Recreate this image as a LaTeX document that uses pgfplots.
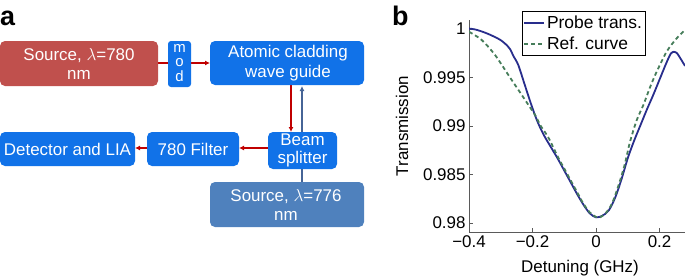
\documentclass[border=0pt]{standalone}
\usepackage{pgfplots}
\pgfplotsset{compat=1.18}
\usetikzlibrary{arrows.meta}
\usepackage{fontspec}
\setmainfont{Liberation Sans}
\definecolor{srcred}{RGB}{192,80,77}
\definecolor{boxblue}{RGB}{17,114,232}
\definecolor{steel}{RGB}{79,129,189}
\definecolor{arrred}{RGB}{192,0,0}
\definecolor{arrblue}{RGB}{70,100,150}
\definecolor{probe}{RGB}{40,45,140}
\definecolor{refc}{RGB}{70,125,90}
\definecolor{axisgray}{RGB}{90,90,90}

\pgfplotstableread{
x y
-0.40 1.00005
-0.38 0.99995
-0.36 0.99975
-0.34 0.9995
-0.32 0.9992
-0.30 0.99885
-0.28 0.9983
-0.27 0.9979
-0.26 0.9972
-0.245 0.9963
-0.225 0.9943
-0.205 0.9923
-0.185 0.9905
-0.165 0.9891
-0.14 0.9877
-0.12 0.9866
-0.10 0.9854
-0.08 0.9842
-0.06 0.9830
-0.04 0.9819
-0.02 0.9810
0.00 0.98058
0.02 0.98075
0.04 0.9813
0.06 0.9826
0.08 0.9845
0.10 0.9867
0.12 0.9885
0.14 0.9901
0.16 0.9917
0.18 0.9932
0.20 0.9948
0.22 0.9964
0.235 0.99745
0.245 0.99765
0.255 0.9975
0.265 0.9970
0.28 0.9962
}\probetab

\pgfplotstableread{
x y
-0.40 0.99972
-0.36 0.99887
-0.318 0.99732
-0.276 0.99526
-0.234 0.9932
-0.192 0.99113
-0.176 0.9901
-0.15 0.9888
-0.12 0.9868
-0.10 0.9856
-0.08 0.9844
-0.06 0.9832
-0.04 0.9820
-0.02 0.9811
0.00 0.98062
0.01 0.98055
0.03 0.9810
0.05 0.9820
0.07 0.9838
0.09 0.9860
0.107 0.98838
0.128 0.9906
0.149 0.99217
0.17 0.9940
0.191 0.99561
0.222 0.99766
0.25 0.9989
0.264 0.99938
0.28 0.9999
}\reftab

\begin{document}
\begin{tikzpicture}
\path[use as bounding box] (0,0) rectangle (685bp,-279bp);
\begin{scope}[x=1bp,y=-1bp,
  txt/.style={text=white, align=center, inner sep=0pt, font=\fontsize{17}{19.5}\selectfont},
  rarr/.style={arrred, line width=1.2bp, -{Latex[length=5bp,width=5bp]}},
  barr/.style={arrblue, line width=1.2bp, -{Latex[length=5bp,width=5bp]}}]
  % connection lines
  \draw[barr] (302,182) -- (302,86);
  \draw[arrred, line width=1.2bp] (158,63) -- (168,63);
  \draw[rarr] (191,63) -- (210,63);
  \draw[rarr] (291,85) -- (291,132);
  \draw[rarr] (268,148) -- (239,148);
  \draw[rarr] (147,148) -- (135,148);
  % boxes
  \fill[srcred, rounded corners=5bp] (0,41) rectangle (158,86);
  \node[txt] at (79,64) {Source, $\lambda$=780\\nm};
  \fill[boxblue, rounded corners=3bp] (168,41) rectangle (191,87);
  \node[txt, font=\fontsize{15}{14.5}\selectfont] at (179.5,63) {m\\o\\d};
  \fill[boxblue, rounded corners=5bp] (210,41) rectangle (364,85);
  \node[txt] at (288,63) {Atomic cladding\\wave guide};
  \fill[boxblue, rounded corners=5bp] (268,132) rectangle (337,169);
  \node[txt, font=\fontsize{17}{17.5}\selectfont] at (302.5,150.5) {Beam\\splitter};
  \fill[boxblue, rounded corners=5bp] (147,132) rectangle (239,166);
  \node[txt] at (193,149) {780 Filter};
  \fill[boxblue, rounded corners=5bp] (0,132) rectangle (135,166);
  \node[txt] at (67.5,149) {Detector and LIA};
  \fill[steel, rounded corners=5bp] (210,182) rectangle (364,227);
  \node[txt] at (286,205) {Source, $\lambda$=776\\nm};
  % panel labels
  \node[anchor=base west, inner sep=0pt, font=\fontsize{27}{30}\selectfont\bfseries] at (0,25) {a};
  \node[anchor=base west, inner sep=0pt, font=\fontsize{27}{30}\selectfont\bfseries] at (392,25) {b};
\end{scope}
\begin{axis}[at={(469bp,-232bp)}, anchor=south west, scale only axis,
  width=216bp, height=212bp,
  xmin=-0.4, xmax=0.28, ymin=0.97907, ymax=1.00093,
  axis x line*=bottom, axis y line*=left,
  axis line style={-, draw=axisgray, line width=0.8bp},
  tick align=inside, major tick length=4bp,
  tick style={axisgray, line width=0.8bp},
  xtick={-0.4,-0.2,0,0.2}, xticklabels={−0.4,−0.2,0,0.2},
  ytick={0.98,0.985,0.99,0.995,1}, yticklabels={0.98,0.985,0.99,0.995,1},
  ticklabel style={font=\fontsize{17}{19}\selectfont},
  label style={font=\fontsize{17}{19}\selectfont},
  xlabel={Detuning (GHz)}, ylabel={Transmission},
  xlabel style={at={(axis description cs:0.514,-0.17)}, anchor=center},
  ylabel style={at={(axis description cs:-0.31,0.5)}, anchor=center},
  legend style={at={(axis description cs:0.245,1.0425)}, anchor=north west,
    draw=black, line width=0.6bp, fill=white, font=\fontsize{17.5}{19}\selectfont,
    inner xsep=1bp, inner ysep=2.5bp, row sep=3bp, cells={anchor=west}},
  legend image code/.code={\draw[#1] (0bp,0bp) -- (20bp,0bp);},
]
\addplot[probe, line width=1.8bp, smooth] table[x=x,y=y] {\probetab};
\addlegendentry{Probe trans.}
\addplot[refc, line width=1.8bp, dash pattern=on 4bp off 3bp, smooth] table[x=x,y=y] {\reftab};
\addlegendentry{Ref. curve}
\end{axis}
\end{tikzpicture}
\end{document}
